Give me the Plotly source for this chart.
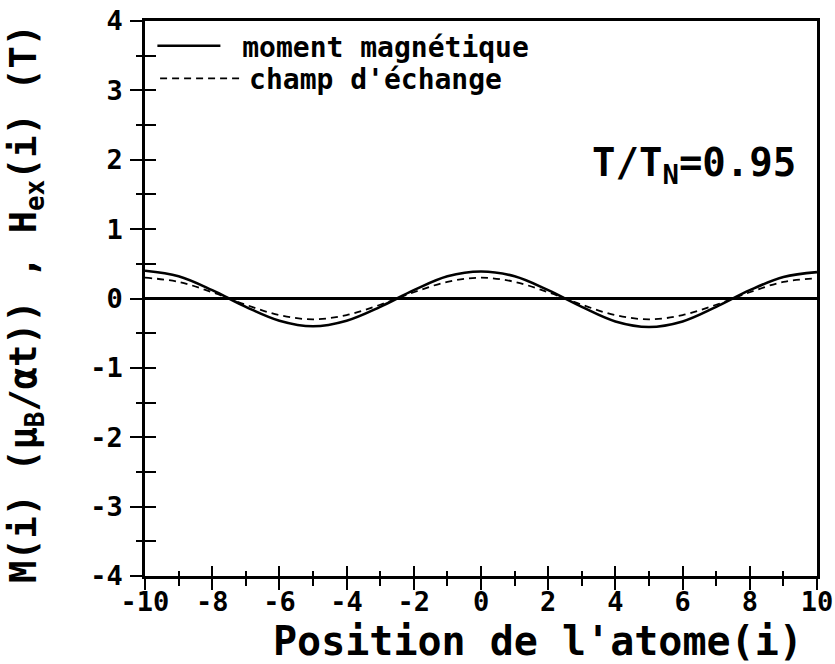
import plotly.graph_objects as go

# Atom positions along the chain
positions = list(range(-10, 11))

# Magnetic moment M(i) in mu_B per atom
moment = [0.40, 0.32, 0.12, -0.12, -0.32, -0.40, -0.32, -0.12, 0.12, 0.32, 0.39,
          0.32, 0.12, -0.12, -0.33, -0.41, -0.33, -0.12, 0.12, 0.31, 0.38]

# Exchange field H_ex(i) in tesla
exchange = [0.30, 0.24, 0.09, -0.09, -0.24, -0.30, -0.24, -0.09, 0.09, 0.24, 0.30,
            0.24, 0.09, -0.09, -0.24, -0.30, -0.24, -0.09, 0.09, 0.24, 0.29]

x_ticks = [-10, -8, -6, -4, -2, 0, 2, 4, 6, 8, 10]
x_ticktext = ["-10", "-8", "-6", "-4", "-2", "0", "2", "4", "6", "8", "10"]
y_ticks = [-4, -3, -2, -1, 0, 1, 2, 3, 4]
y_ticktext = ["-4", "-3", "-2", "-1", "0", "1", "2", "3", "4"]

MONO = "DejaVu Sans Mono"
INK = "black"
NBSP = "\u00a0"

fig = go.Figure()

fig.add_trace(go.Scatter(
    x=positions, y=moment, mode="lines", name=NBSP + "moment magnétique",
    legend="legend",
    line=dict(color=INK, width=2.6, shape="spline", smoothing=1.0),
))
fig.add_trace(go.Scatter(
    x=positions, y=exchange, mode="lines", name="champ d'échange",
    legend="legend2",
    line=dict(color=INK, width=1.8, dash="7px,5px", shape="spline", smoothing=1.0),
))
# empty trace so the overlaid tick axes are drawn
fig.add_trace(go.Scatter(x=[], y=[], xaxis="x2", yaxis="y2",
                         showlegend=False, hoverinfo="skip"))

tickfont = dict(family=MONO, size=27, color=INK, weight="bold")
legendfont = dict(family=MONO, size=28, color=INK, weight="bold")

fig.update_layout(
    width=835, height=664,
    margin=dict(l=145, r=18, t=21, b=88, autoexpand=False),
    paper_bgcolor="white", plot_bgcolor="white",
    showlegend=True,
    legend=dict(
        x=0.011, y=0.955, xanchor="left", yanchor="middle",
        bgcolor="rgba(0,0,0,0)", borderwidth=0,
        font=legendfont, itemwidth=63,
    ),
    legend2=dict(
        x=0.015, y=0.896, xanchor="left", yanchor="middle",
        bgcolor="rgba(0,0,0,0)", borderwidth=0,
        font=legendfont, itemwidth=84,
    ),
    xaxis=dict(
        range=[-10, 10], showgrid=False, zeroline=False, automargin=False,
        showline=True, linecolor=INK, linewidth=2.5, mirror=True,
        tickmode="array", tickvals=x_ticks, ticktext=x_ticktext,
        ticks="inside", ticklen=10, tickwidth=2, tickcolor=INK,
        minor=dict(ticks="inside", ticklen=5, tickwidth=2, tickcolor=INK, dtick=1, showgrid=False),
        tickfont=tickfont, ticklabelstandoff=0,
    ),
    xaxis2=dict(
        range=[-10, 10], overlaying="x", anchor="y", side="bottom", automargin=False,
        showgrid=False, zeroline=False, showline=False, showticklabels=False,
        tickmode="array", tickvals=x_ticks,
        ticks="outside", ticklen=13, tickwidth=2, tickcolor=INK,
        minor=dict(ticks="outside", ticklen=9, tickwidth=2, tickcolor=INK, dtick=1, showgrid=False),
    ),
    yaxis=dict(
        range=[-4, 4], showgrid=False, automargin=False,
        zeroline=True, zerolinecolor=INK, zerolinewidth=2.5,
        showline=True, linecolor=INK, linewidth=2.5, mirror=True,
        tickmode="array", tickvals=y_ticks, ticktext=y_ticktext,
        ticks="outside", ticklen=12, tickwidth=2, tickcolor=INK,
        minor=dict(ticks="outside", ticklen=6, tickwidth=2, tickcolor=INK, dtick=0.5, showgrid=False),
        tickfont=tickfont, ticklabelstandoff=2,
    ),
    yaxis2=dict(
        range=[-4, 4], overlaying="y", anchor="x", side="left", automargin=False,
        showgrid=False, zeroline=False, showline=False, showticklabels=False,
        tickmode="array", tickvals=y_ticks,
        ticks="inside", ticklen=11, tickwidth=2, tickcolor=INK,
        minor=dict(ticks="inside", ticklen=11, tickwidth=2, tickcolor=INK, dtick=0.5, showgrid=False),
    ),
)

# Axis titles and temperature label
fig.add_annotation(
    text="Position de l'atome(i)", xref="paper", yref="paper",
    x=0.585, y=-0.118, xanchor="center", yanchor="middle", showarrow=False,
    font=dict(family=MONO, size=40, color=INK, weight="bold"),
)
fig.add_annotation(
    text="M(i) (μ<sub>B</sub>/αt)) , H<sub>ex</sub>(i) (T)", xref="paper", yref="paper",
    x=-0.177, y=0.49, xanchor="center", yanchor="middle", textangle=-90, showarrow=False,
    font=dict(family=MONO, size=37, color=INK, weight="bold"),
)
fig.add_annotation(
    text="T/T<sub>N</sub>=0.95", xref="paper", yref="paper",
    x=0.817, y=0.74, xanchor="center", yanchor="middle", showarrow=False,
    font=dict(family=MONO, size=39, color=INK, weight="bold"),
)

fig.write_html("out.html")
